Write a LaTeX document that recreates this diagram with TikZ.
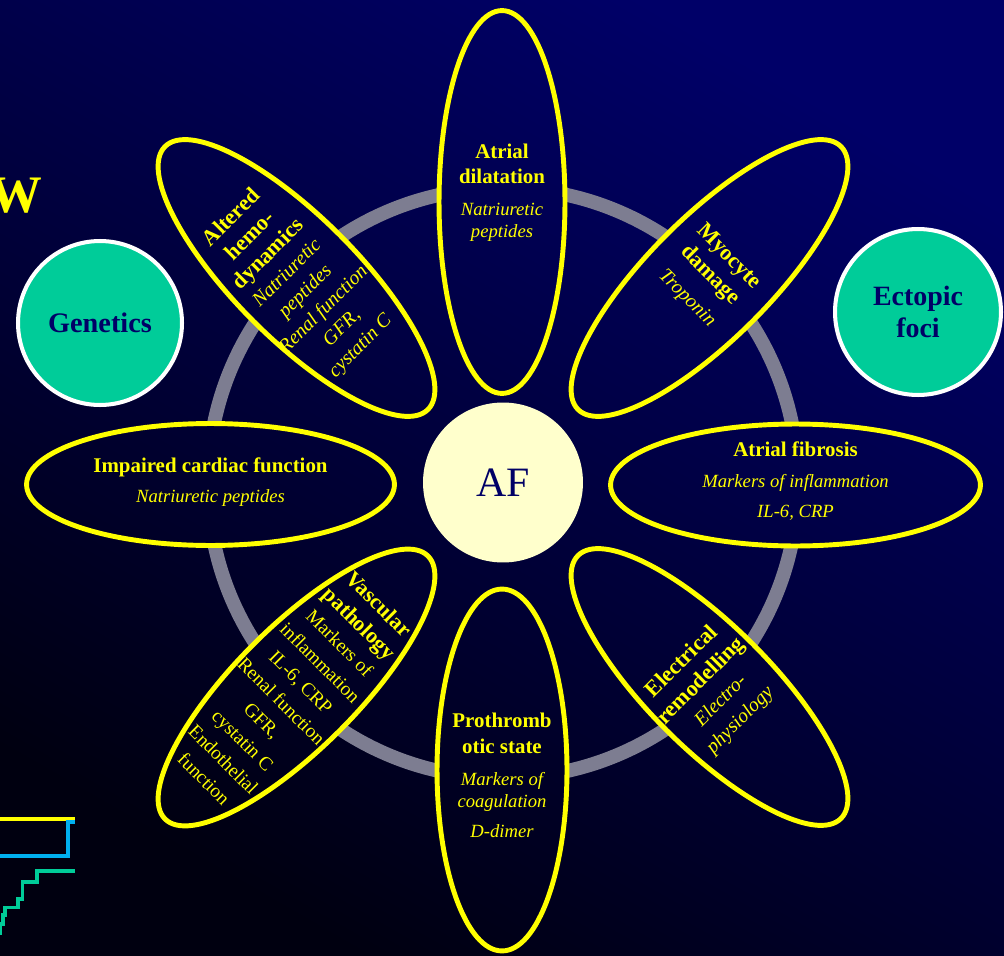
\documentclass[tikz,border=0pt]{standalone}
\usepackage{fontspec}
\setmainfont{Liberation Serif}
\usetikzlibrary{shapes.geometric}

\definecolor{bgtop}{RGB}{0,0,104}
\definecolor{bgbottom}{RGB}{0,0,16}
\definecolor{petalyellow}{RGB}{255,255,0}
\definecolor{mint}{RGB}{0,204,153}
\definecolor{ringgray}{RGB}{125,125,145}
\definecolor{cream}{RGB}{255,255,204}
\definecolor{inknavy}{RGB}{0,0,102}
\definecolor{skyblue}{RGB}{0,176,240}

\tikzset{
  backdrop/.style={top color=bgtop, bottom color=bgbottom, shading angle=-30},
  petal/.style={ellipse, draw=petalyellow, line width=2.8pt, inner sep=0pt},
  ring/.style={draw=ringgray, line width=7.9pt},
  badge/.style={circle, draw=white, fill=mint, line width=2.3pt, inner sep=0pt,
    text=inknavy, align=center},
  note/.style={text=petalyellow, align=center, inner sep=0pt},
  stepline/.style={line width=1.9pt},
}

\newcommand\petalhead[1]{\fontsize{#1}{#1}\selectfont\bfseries}
\newcommand\petalnote[1]{\fontsize{#1}{#1}\selectfont\itshape}

% petal: name, centre x, centre y, angle, half length, half width (px units);
% the inside is refilled with the backdrop so the ring disappears beneath it
\newcommand\petal[6]{%
  \begin{scope}
    \clip[rotate around={#4:(#2,#3)}] (#2,#3) ellipse [x radius=#5, y radius=#6];
    \shade[backdrop] (0,0) rectangle (1004,956);
  \end{scope}
  \node[petal, rotate=#4, minimum width=#5*0.04cm, minimum height=#6*0.04cm] (#1) at (#2,#3) {};
}

\begin{document}
\begin{tikzpicture}[x=0.02cm, y=-0.02cm]
\useasboundingbox (0,0) rectangle (1004,956);
\clip (0,0) rectangle (1004,956);
\shade[backdrop] (0,0) rectangle (1004,956);

% ring behind the petals
\coordinate (hub) at (503,483);
\draw[ring] (hub) circle [radius=295];

% petals
\petal{dil}{502}{202}{90}{191.5}{63}
\petal{myo}{709.5}{278}{45}{186}{61}
\petal{fib}{795.5}{485}{0}{185}{61}
\petal{ele}{709.5}{687}{-45}{186}{61}
\petal{pro}{502}{770}{90}{181}{65}
\petal{vas}{296.5}{687.5}{45}{186}{61}
\petal{imp}{210.5}{484.5}{0}{184}{61}
\petal{hem}{296.5}{278}{-45}{186}{61}

% petal texts
\node[note, anchor=north, font=\fontsize{10.6}{14.2}\selectfont] (dil-text) at (502,143.5)
  {\petalhead{11.9}Atrial\\ \petalhead{11.9}dilatation\\[4pt]
   \petalnote{10.6}Natriuretic\\[-1.7pt] \petalnote{10.6}peptides};

\node[note, anchor=north, font=\fontsize{10.6}{14.2}\selectfont] (pro-text) at (502,712.8)
  {\petalhead{11.9}Prothromb\\[0.5pt] \petalhead{11.9}otic state\\[3.9pt]
   \petalnote{10.6}Markers of\\[-1.7pt] \petalnote{10.6}coagulation\\[2.8pt]
   \petalnote{10.6}D-dimer};

\node[note, anchor=north, font=\fontsize{10.6}{14.2}\selectfont] (imp-text) at (210.5,457.5)
  {\petalhead{11.9}Impaired cardiac function\\[2.8pt]
   \petalnote{10.6}Natriuretic peptides};

\node[note, anchor=north, font=\fontsize{10.6}{14.2}\selectfont] (fib-text) at (795.5,441.5)
  {\petalhead{11.9}Atrial fibrosis\\[3.3pt]
   \petalnote{10.6}Markers of inflammation\\[2.8pt]
   \petalnote{10.6}IL-6, CRP};

\node[note, rotate=45, font=\fontsize{11.3}{14.7}\selectfont] (hem-text) at (296,282)
  {\petalhead{12.7}Altered\\ \petalhead{12.7}hemo-\\ \petalhead{12.7}dynamics\\
   \petalnote{11.3}Natriuretic\\ \petalnote{11.3}peptides\\
   \petalnote{11.3}Renal function\\ \petalnote{11.3}GFR,\\ \petalnote{11.3}cystatin C};

\node[note, rotate=-45, font=\fontsize{11.3}{15}\selectfont] (myo-text) at (708,277.5)
  {\petalhead{12.7}Myocyte\\ \petalhead{12.7}damage\\[3.4pt] \petalnote{11.3}Troponin};

\node[note, rotate=-45, font=\fontsize{11}{15.6}\selectfont] (vas-text) at (292,691)
  {\petalhead{12.5}Vascular\\ \petalhead{12.5}pathology\\ Markers of\\ inflammation\\
   IL-6, CRP\\ Renal function\\ GFR,\\ cystatin C\\ Endothelial\\ function};

\node[note, rotate=45, font=\fontsize{11.3}{15.5}\selectfont] (ele-text) at (711,691)
  {\petalhead{12.7}Electrical\\ \petalhead{12.7}remodelling\\
   \petalnote{11.3}Electro-\\ \petalnote{11.3}physiology};

% centre and side circles
\node[circle, fill=cream, minimum size=3.2cm, inner sep=0pt, text=inknavy,
  font=\fontsize{23.8}{23.8}\selectfont] (af) at (503,482.5) {AF};
\node[badge, minimum size=3.28cm, font=\fontsize{16.1}{16.1}\selectfont\bfseries]
  (genetics) at (100,323) {Genetics};
\node[badge, minimum size=3.32cm, font=\fontsize{15.9}{18.1}\selectfont\bfseries]
  (ectopic) at (918,312) {Ectopic\\foci};

% heading letter at the left edge
\node[anchor=base east, inner sep=0pt, text=petalyellow,
  font=\fontsize{30}{30}\selectfont\bfseries] (heading) at (43,213) {W};

% step lines at the lower left
\draw[stepline, petalyellow] (0,819) -- (75,819);
\draw[stepline, skyblue] (0,856) -- (68,856) -- (68,822) -- (75,822);
\draw[stepline, mint] (75,871) -- (37,871) -- (37,882) -- (22.7,882) -- (22.7,899)
  -- (18,899) -- (18,907.7) -- (5,907.7) -- (5,915) -- (3,915) -- (3,924)
  -- (0,924) -- (0,935);
\end{tikzpicture}
\end{document}
